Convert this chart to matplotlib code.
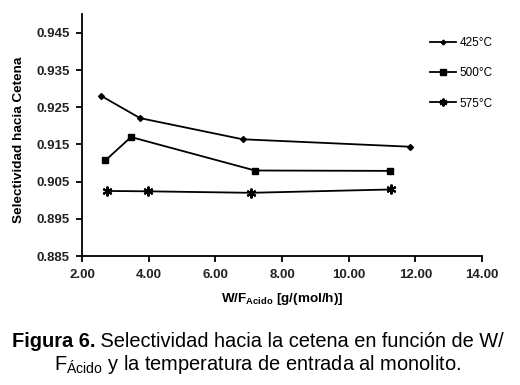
import matplotlib
matplotlib.use("Agg")
import matplotlib.pyplot as plt

plt.rcParams['font.family'] = ['Liberation Sans', 'DejaVu Sans']

x425 = [2.57, 3.74, 6.82, 11.84]
y425 = [0.9281, 0.9221, 0.9164, 0.9144]
x500 = [2.70, 3.47, 7.19, 11.24]
y500 = [0.9107, 0.9170, 0.9080, 0.9079]
x575 = [2.74, 3.99, 7.06, 11.27]
y575 = [0.9025, 0.9024, 0.9020, 0.9029]
labels = ['425°C', '500°C', '575°C']
xticks = [2, 4, 6, 8, 10, 12, 14]
yticks = [0.885, 0.895, 0.905, 0.915, 0.925, 0.935, 0.945]

W, H = 520, 385
fig = plt.figure(figsize=(5.2, 3.85), dpi=100)
ax = fig.add_axes([82 / W, 1 - 256 / H, 400 / W, 242 / H])

l1, = ax.plot(x425, y425, color='black', lw=1.3, marker='D', ms=3)
l2, = ax.plot(x500, y500, color='black', lw=1.3, marker='s', ms=5)
l3, = ax.plot(x575, y575, color='black', lw=1.3, marker=(6, 2, 0), ms=7, mew=1.5)

ax.set_xlim(2, 14)
ax.set_ylim(0.885, 0.885 + 242 / 3717)
ax.set_xticks(xticks)
ax.set_xticklabels([f'{v:.2f}' for v in xticks])
ax.set_yticks(yticks)
ax.set_yticklabels([f'{v:.3f}' for v in yticks])
for s in ['top', 'right']:
    ax.spines[s].set_visible(False)
for s in ['left', 'bottom']:
    ax.spines[s].set_linewidth(1.3)
ax.tick_params(direction='out', length=4, width=1.3, labelsize=9.5, pad=5)
for t in ax.get_xticklabels() + ax.get_yticklabels():
    t.set_fontweight('bold')
    t.set_color('#222222')

ax.set_ylabel('Selectividad hacia Cetena', fontsize=9.7, fontweight='bold')
ax.yaxis.set_label_coords(-57 / 400, 0.48)
ax.set_xlabel(r'W/F$_{\mathregular{Acido}}$ [g/(mol/h)]', fontsize=9.7, fontweight='bold')
ax.xaxis.set_label_coords((282 - 82) / 400, -46 / 242)
ax.xaxis.label.set_va('baseline')

fig.legend([l1, l2, l3], labels, loc='upper left', bbox_to_anchor=(430 / W, 1 - 37 / H),
           frameon=False, fontsize=8.5, labelspacing=1.55, handlelength=2.2,
           handletextpad=0.3, markerscale=0.8, borderaxespad=0, borderpad=0)

# Caption
fs = 14.4
r = fig.canvas.get_renderer()
tb = fig.text(0, 1 - 347 / H, 'Figura 6.', fontsize=fs, fontweight='bold', ha='left', va='baseline')
tr = fig.text(0, 1 - 347 / H, ' Selectividad hacia la cetena en función de W/', fontsize=fs,
              ha='left', va='baseline')
wb = tb.get_window_extent(r).width
wr = tr.get_window_extent(r).width
x0 = 258 - (wb + wr) / 2
tb.set_x(x0 / W)
tr.set_x((x0 + wb) / W)
fig.text(258 / W, 1 - 370 / H, r'F$_{\mathregular{Ácido}}$ y la temperatura de entrada al monolito.',
         fontsize=fs, ha='center', va='baseline')

fig.savefig('out.png', dpi=100)
